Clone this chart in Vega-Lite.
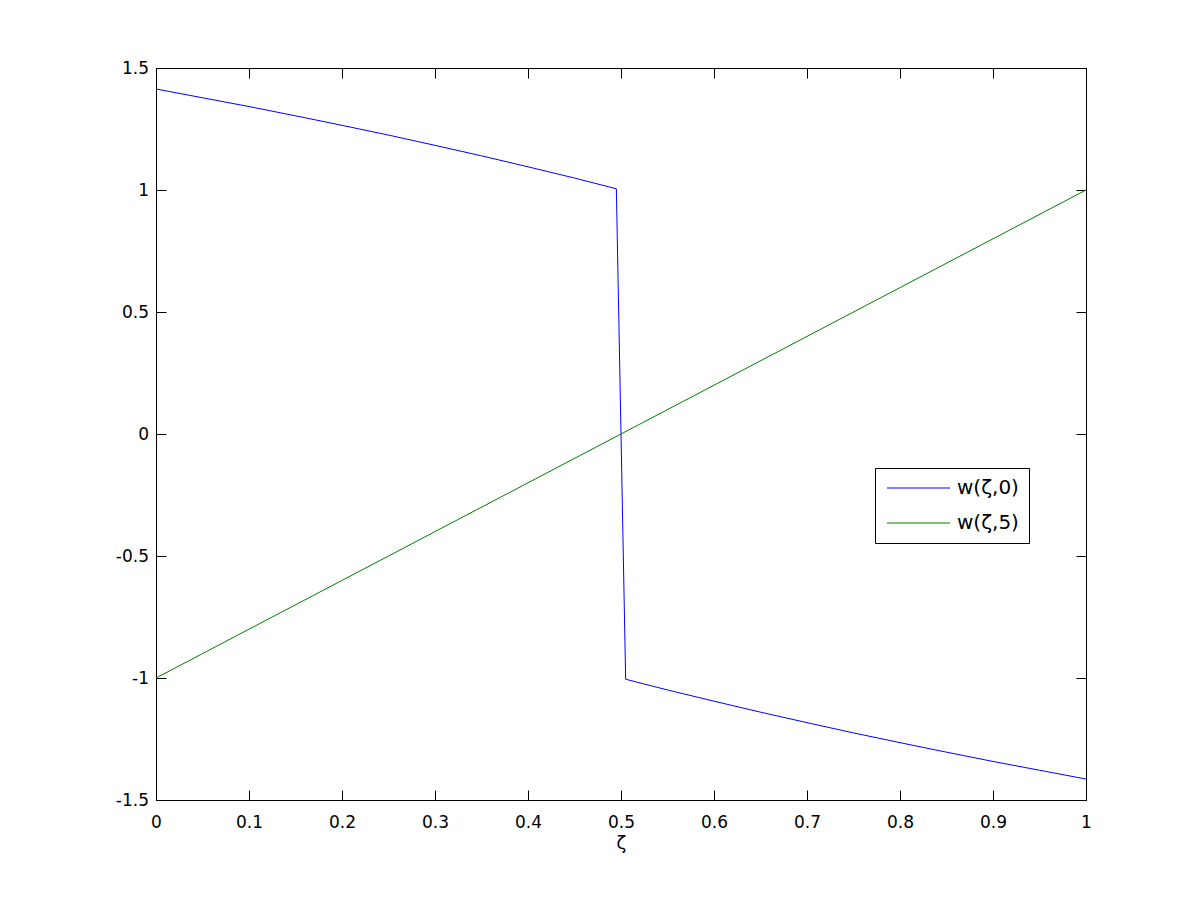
{
  "$schema": "https://vega.github.io/schema/vega-lite/v6.json",
  "autosize": {"type": "none"},
  "padding": {"left": 156, "top": 68, "right": 114, "bottom": 100},
  "width": 930,
  "height": 732,
  "background": "white",
  "config": {
    "view": {"stroke": "black", "strokeWidth": 1},
    "font": "DejaVu Sans",
    "axis": {
      "grid": false,
      "domainColor": "black",
      "tickColor": "black",
      "labelColor": "black",
      "labelFont": "DejaVu Sans",
      "labelFontSize": 17,
      "titleFont": "DejaVu Sans",
      "titleFontSize": 18,
      "titleFontWeight": "normal",
      "titleColor": "black",
      "tickSize": -10
    },
    "legend": {
      "orient": "none",
      "legendX": 719,
      "legendY": 400,
      "strokeColor": "black",
      "fillColor": "white",
      "padding": 9.5,
      "symbolType": "M-0.8,0H5.5",
      "symbolSize": 400,
      "symbolStrokeWidth": 1,
      "symbolOffset": 0,
      "labelFont": "DejaVu Sans",
      "labelFontSize": 20,
      "labelColor": "black",
      "labelOffset": 51.5,
      "rowPadding": 14
    }
  },
  "data": {
    "values": [
      {"zeta": 0.0, "w": 1.414, "series": "w(ζ,0)"},
      {"zeta": 0.05, "w": 1.378, "series": "w(ζ,0)"},
      {"zeta": 0.1, "w": 1.342, "series": "w(ζ,0)"},
      {"zeta": 0.15, "w": 1.304, "series": "w(ζ,0)"},
      {"zeta": 0.2, "w": 1.265, "series": "w(ζ,0)"},
      {"zeta": 0.25, "w": 1.225, "series": "w(ζ,0)"},
      {"zeta": 0.3, "w": 1.183, "series": "w(ζ,0)"},
      {"zeta": 0.35, "w": 1.14, "series": "w(ζ,0)"},
      {"zeta": 0.4, "w": 1.095, "series": "w(ζ,0)"},
      {"zeta": 0.45, "w": 1.049, "series": "w(ζ,0)"},
      {"zeta": 0.495, "w": 1.005, "series": "w(ζ,0)"},
      {"zeta": 0.5, "w": 0.0, "series": "w(ζ,0)"},
      {"zeta": 0.505, "w": -1.005, "series": "w(ζ,0)"},
      {"zeta": 0.55, "w": -1.049, "series": "w(ζ,0)"},
      {"zeta": 0.6, "w": -1.095, "series": "w(ζ,0)"},
      {"zeta": 0.65, "w": -1.14, "series": "w(ζ,0)"},
      {"zeta": 0.7, "w": -1.183, "series": "w(ζ,0)"},
      {"zeta": 0.75, "w": -1.225, "series": "w(ζ,0)"},
      {"zeta": 0.8, "w": -1.265, "series": "w(ζ,0)"},
      {"zeta": 0.85, "w": -1.304, "series": "w(ζ,0)"},
      {"zeta": 0.9, "w": -1.342, "series": "w(ζ,0)"},
      {"zeta": 0.95, "w": -1.378, "series": "w(ζ,0)"},
      {"zeta": 1.0, "w": -1.414, "series": "w(ζ,0)"},
      {"zeta": 0.0, "w": -1.0, "series": "w(ζ,5)"},
      {"zeta": 0.5, "w": 0.0, "series": "w(ζ,5)"},
      {"zeta": 1.0, "w": 1.0, "series": "w(ζ,5)"}
    ]
  },
  "layer": [
    {
      "mark": {"type": "line", "strokeWidth": 1, "clip": true},
      "encoding": {
        "x": {
          "field": "zeta", "type": "quantitative",
          "scale": {"domain": [0, 1], "nice": false, "zero": false},
          "axis": {"title": "ζ", "values": [0, 0.1, 0.2, 0.3, 0.4, 0.5, 0.6, 0.7, 0.8, 0.9, 1], "format": "~g", "labelPadding": 24, "titlePadding": 4, "labelFlush": false}
        },
        "y": {
          "field": "w", "type": "quantitative",
          "scale": {"domain": [-1.5, 1.5], "nice": false, "zero": false},
          "axis": {"title": null, "values": [-1.5, -1, -0.5, 0, 0.5, 1, 1.5], "format": "~g", "labelExpr": "replace(datum.label, '−', '-')", "labelPadding": 17.5, "labelFlush": false}
        },
        "color": {
          "field": "series", "type": "nominal",
          "scale": {"domain": ["w(ζ,0)", "w(ζ,5)"], "range": ["#0000ff", "#007f00"]},
          "legend": {"title": null}
        },
        "order": {"field": "zeta", "type": "quantitative"}
      }
    },
    {
      "mark": {"type": "line", "opacity": 0},
      "encoding": {
        "x": {
          "field": "zeta", "type": "quantitative",
          "axis": {"orient": "top", "title": null, "labels": false, "values": [0, 0.1, 0.2, 0.3, 0.4, 0.5, 0.6, 0.7, 0.8, 0.9, 1]}
        },
        "y": {
          "field": "w", "type": "quantitative",
          "axis": {"orient": "right", "title": null, "labels": false, "values": [-1.5, -1, -0.5, 0, 0.5, 1, 1.5]}
        },
        "detail": {"field": "series"}
      }
    }
  ],
  "resolve": {"axis": {"x": "independent", "y": "independent"}}
}
